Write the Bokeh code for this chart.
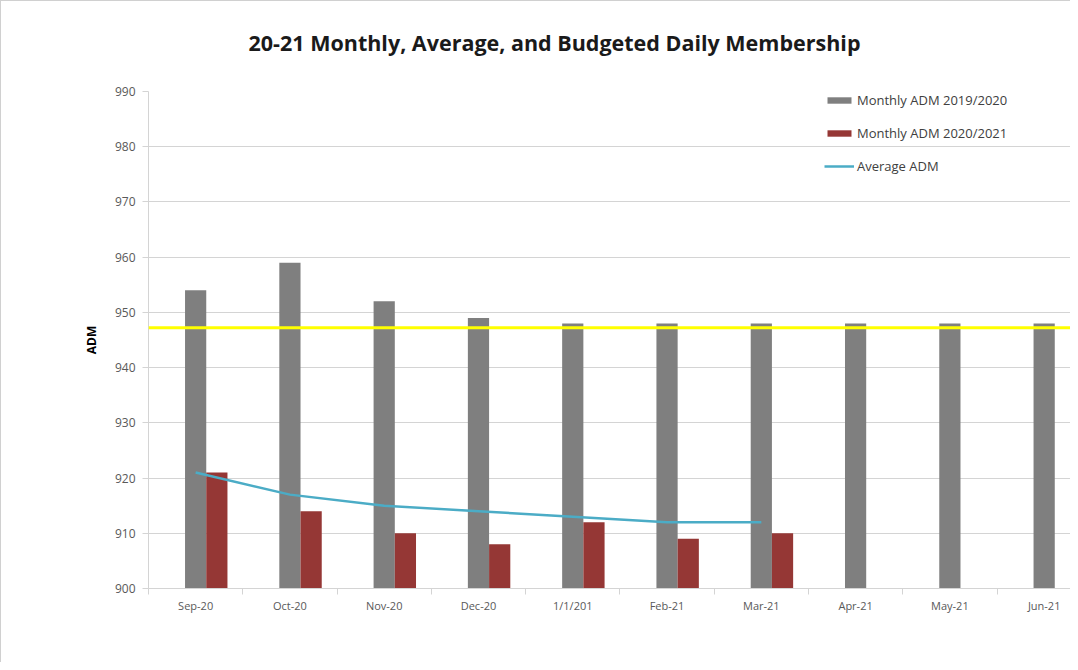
from bokeh.plotting import figure
from bokeh.models import Range1d, FixedTicker, Span, Legend, LegendItem, ColumnDataSource, Title
from bokeh.transform import dodge
from bokeh.embed import file_html
from bokeh.resources import INLINE

categories = ["Sep-20", "Oct-20", "Nov-20", "Dec-20", "1/1/201", "Feb-21",
              "Mar-21", "Apr-21", "May-21", "Jun-21"]
adm_2019_2020 = [954, 959, 952, 949, 948, 948, 948, 948, 948, 948]
adm_2020_2021 = [921, 914, 910, 908, 912, 909, 910]
average_adm = [921, 917, 915, 914, 913, 912, 912]
budgeted_adm = 947.2
y_ticks = list(range(900, 1000, 10))
chart_title = "20-21 Monthly, Average, and Budgeted Daily Membership"

x_all = list(range(len(categories)))
x_cur = x_all[:len(adm_2020_2021)]

src_prev = ColumnDataSource(dict(x=x_all, top=adm_2019_2020))
src_cur = ColumnDataSource(dict(x=x_cur, top=adm_2020_2021))
src_avg = ColumnDataSource(dict(x=x_cur, y=average_adm))

FONT = "Open Sans"

p = figure(width=1070, height=662, output_backend="svg", toolbar_location=None,
           x_range=Range1d(-0.5, 9.29), y_range=Range1d(900, 990),
           min_border_left=147, min_border_right=0, min_border_top=90,
           min_border_bottom=75)
p.styles = {"border-top": "1px solid #d0d0d0", "border-left": "1px solid #d0d0d0"}

p.title.text = chart_title
p.title.align = "left"
p.title.vertical_align = "middle"
p.title.offset = 100
p.title.text_font = FONT
p.title.text_font_size = "21.5px"
p.title.text_font_style = "bold"
p.title.text_color = "#1a1a1a"
p.title.standoff = 0

# empty spacer panel between the title and the plot frame
spacer = Title(text=" ", text_font_size="10px", standoff=21)
p.add_layout(spacer, "above")

p.outline_line_color = None
p.background_fill_color = "white"
p.border_fill_color = "white"

r_prev = p.vbar(x="x", top="top", bottom=900, width=0.225, source=src_prev,
                fill_color="#7f7f7f", line_color=None)
r_cur = p.vbar(x=dodge("x", 0.225, range=p.x_range), top="top", bottom=900, width=0.225,
               source=src_cur, fill_color="#953735", line_color=None)
r_avg = p.line(x="x", y="y", source=src_avg, line_color="#4bacc6", line_width=2.5)

budget = Span(location=budgeted_adm, dimension="width", line_color="#ffff00", line_width=3)
p.add_layout(budget)

# axes
p.xgrid.visible = False
p.ygrid.grid_line_color = "#d4d4d4"
p.ygrid.grid_line_width = 1

yax = p.yaxis[0]
yax.ticker = FixedTicker(ticks=y_ticks)
yax.axis_label = "ADM"
yax.axis_label_text_font = FONT
yax.axis_label_text_font_size = "12px"
yax.axis_label_text_font_style = "bold"
yax.axis_label_text_color = "#000000"
yax.axis_label_standoff = 12
yax.axis_line_color = "#d4d4d4"
yax.major_tick_line_color = "#d4d4d4"
yax.major_tick_in = 0
yax.major_tick_out = 6
yax.minor_tick_line_color = None
yax.major_label_text_font = FONT
yax.major_label_text_font_size = "12px"
yax.major_label_text_color = "#595959"
yax.major_label_standoff = 7

xax = p.xaxis[0]
xax.ticker = FixedTicker(ticks=x_all, minor_ticks=[i - 0.5 for i in range(len(categories) + 1)])
xax.major_label_overrides = {i: c for i, c in enumerate(categories)}
xax.axis_line_color = "#d4d4d4"
xax.major_tick_line_color = None
xax.minor_tick_line_color = "#d4d4d4"
xax.minor_tick_in = 0
xax.minor_tick_out = 6
xax.major_label_text_font = FONT
xax.major_label_text_font_size = "11px"
xax.major_label_text_color = "#595959"
xax.major_label_standoff = 3

legend = Legend(items=[
    LegendItem(label="Monthly ADM 2019/2020", renderers=[r_prev]),
    LegendItem(label="Monthly ADM 2020/2021", renderers=[r_cur]),
    LegendItem(label="Average ADM", renderers=[r_avg]),
], location=(676, 413))
legend.border_line_color = None
legend.background_fill_alpha = 0
legend.padding = 0
legend.margin = 0
legend.spacing = 15
legend.glyph_width = 30
legend.glyph_height = 8
legend.label_height = 13
legend.label_standoff = 3
legend.label_text_font = FONT
legend.label_text_font_size = "13px"
legend.label_text_color = "#404040"
p.add_layout(legend)

open("out.html", "w").write(file_html(p, INLINE))
